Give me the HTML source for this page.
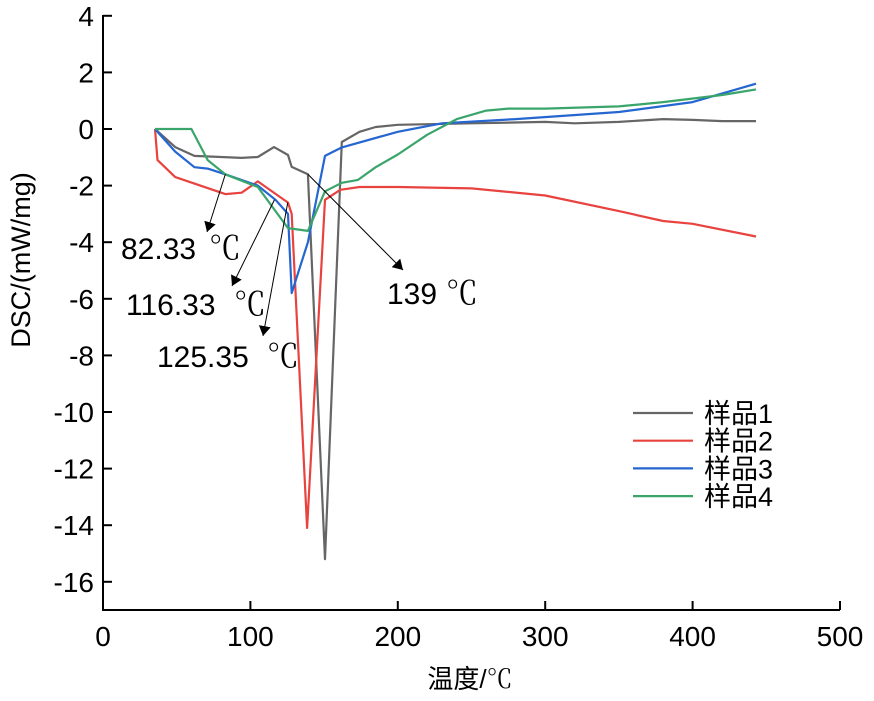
<!DOCTYPE html>
<html><head><meta charset="utf-8"><style>
body{margin:0;background:#fff}
text{font-family:"Liberation Sans","Noto Sans CJK SC",sans-serif;fill:#000}
.deg{font-family:"Noto Serif CJK SC",serif}
</style></head><body>
<svg id="c" width="874" height="696"></svg>
<script>
const xTicks=[0,100,200,300,400,500];
const yTicks=[4,2,0,-2,-4,-6,-8,-10,-12,-14,-16];
const seriesNames=["样品1","样品2","样品3","样品4"];
const colors=["#666666","#e8433f","#2566d0","#3aa56a"];
const s1x=[35.3,49,62,94,105,116,125.5,128,139,150.6,162,174,185,200,250,300,320,350,380,400,420,443];
const s1y=[0,-0.64,-0.95,-1.02,-0.99,-0.64,-0.92,-1.34,-1.6,-15.2,-0.46,-0.1,0.07,0.15,0.2,0.25,0.2,0.25,0.35,0.32,0.28,0.28];
const s2x=[35.3,37,49,66,83,94,105,125.5,128,138.5,150.6,161,174,200,250,300,350,380,400,443];
const s2y=[0,-1.1,-1.7,-2,-2.3,-2.25,-1.85,-2.6,-3.0,-14.1,-2.5,-2.15,-2.05,-2.05,-2.1,-2.35,-2.9,-3.25,-3.35,-3.8];
const s3x=[35.3,49,62,71,83,105,117,125.5,128,139,150.6,162,200,230,280,350,400,443];
const s3y=[0,-0.8,-1.35,-1.4,-1.6,-2.0,-2.5,-3.0,-5.8,-4.0,-0.95,-0.65,-0.1,0.2,0.35,0.6,0.95,1.6];
const s4x=[35.3,60,71,83,105,125.5,139,150.6,162,173,185,200,220,240,260,275,300,350,380,420,443];
const s4y=[0,0,-1.1,-1.6,-2.05,-3.5,-3.6,-2.2,-1.9,-1.8,-1.35,-0.9,-0.2,0.35,0.65,0.72,0.72,0.8,0.95,1.2,1.4];
const annLabels=["82.33","116.33","125.35","139"];
const annX=[83,116.33,125.35,139];
const annY=[-1.6,-2.5,-2.6,-1.6];

const X=v=>103+v*1.474, Y=v=>129-v*28.3;
const svg=document.getElementById('c'),NS="http://www.w3.org/2000/svg";
function mk(t,a,p){const e=document.createElementNS(NS,t);for(const k in a)e.setAttribute(k,a[k]);(p||svg).appendChild(e);return e;}
let e;
e=mk('line',{x1:103,y1:15,x2:103,y2:610,stroke:'#000','stroke-width':2});


e=mk('line',{x1:102,y1:610,x2:840,y2:610,stroke:'#000','stroke-width':2});


xTicks.forEach(v=>{mk('line',{x1:X(v),y1:610,x2:X(v),y2:601,stroke:'#000','stroke-width':2});
e=mk('text',{x:X(v),y:646,'font-size':28,'text-anchor':'middle'});e.textContent=v;

});
yTicks.forEach(v=>{mk('line',{x1:103,y1:Y(v),x2:112,y2:Y(v),stroke:'#000','stroke-width':2});
e=mk('text',{x:94,y:Y(v)+10,'font-size':28,'text-anchor':'end'});e.textContent=v;

});
e=mk('text',{x:0,y:0,'font-size':27,'text-anchor':'middle',transform:'translate(30,260) rotate(-90)'});e.textContent='DSC/(mW/mg)';


e=mk('text',{x:470,y:688,'font-size':26,'text-anchor':'middle'});
e.innerHTML='温度/<tspan class="deg">℃</tspan>';


const defs=mk('defs',{});const m=mk('marker',{id:'ah',markerWidth:10,markerHeight:12,refX:10,refY:6,orient:'auto',markerUnits:'userSpaceOnUse'},defs);
mk('path',{d:'M0,0 L10,6 L0,12 z',fill:'#000'},m);
[[s1x,s1y],[s2x,s2y],[s3x,s3y],[s4x,s4y]].forEach((s,i)=>{
 const d=s[0].map((v,j)=>(j?'L':'M')+X(v).toFixed(1)+','+Y(s[1][j]).toFixed(1)).join(' ');
 e=mk('path',{d:d,fill:'none',stroke:colors[i],'stroke-width':2.2,'stroke-linejoin':'round'});
 
 
 const ly=413+i*27.7;
 e=mk('line',{x1:633,y1:ly,x2:693,y2:ly,stroke:colors[i],'stroke-width':2.2});
 
 
 e=mk('text',{x:704,y:ly+10,'font-size':27});e.textContent=seriesNames[i];
 
 
});
const tip=[[207,232],[232,286],[263,336],[403,270]];
const lab=[[121,259],[126,315],[157,367],[387,304]];
const degX=[209,234,267,446];
annLabels.forEach((t,i)=>{
 e=mk('line',{x1:X(annX[i]),y1:Y(annY[i]),x2:tip[i][0],y2:tip[i][1],stroke:'#000','stroke-width':1,'marker-end':'url(#ah)'});
 
 
 e=mk('text',{x:lab[i][0],y:lab[i][1],'font-size':30});
 e.innerHTML=t+'<tspan class="deg" x="'+degX[i]+'" font-size="32">℃</tspan>';
 
 
});
</script>
</body></html>
